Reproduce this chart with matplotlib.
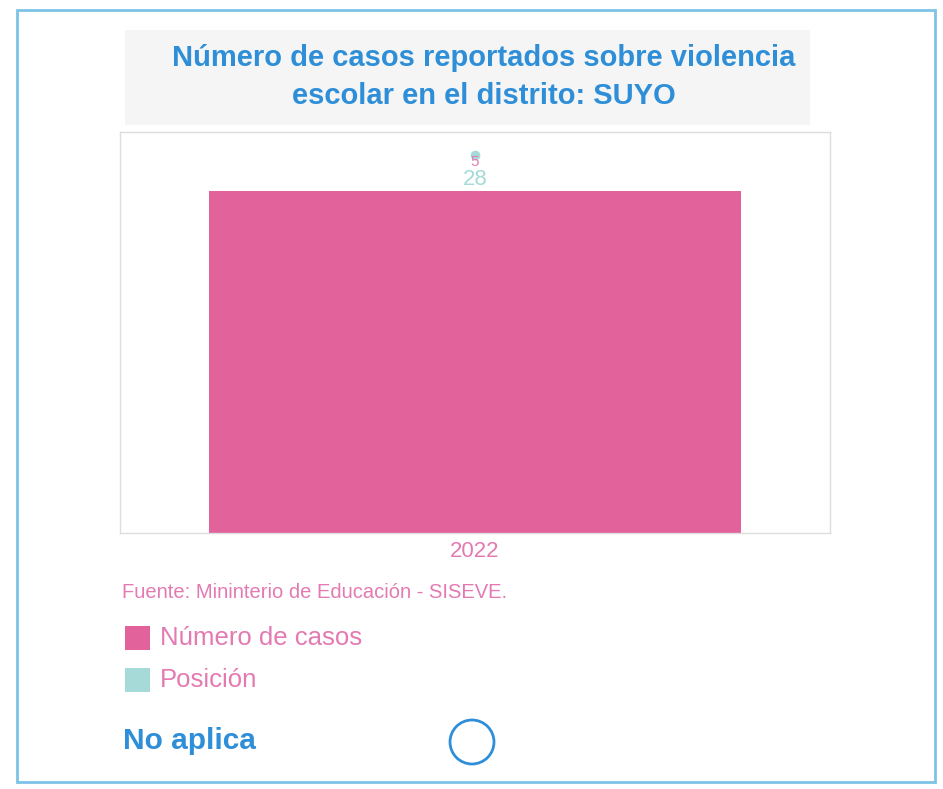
import matplotlib.pyplot as plt
from matplotlib.patches import Rectangle, Circle

# data
years = ["2022"]
casos = [28]
posicion = [5]

title = "Número de casos reportados sobre violencia\nescolar en el distrito: SUYO"
fuente = "Fuente: Mininterio de Educación - SISEVE."
legend_labels = ["Número de casos", "Posición"]
footer = "No aplica"

PINK = "#e2639c"
TEAL = "#a6dad8"
BLUE = "#2e8fd8"
TEXT_PINK = "#e47ab2"

plt.rcParams["font.family"] = ["Liberation Sans", "DejaVu Sans"]

fig = plt.figure(figsize=(9.43, 7.89), dpi=100)
W, H = 943, 789


def fx(px):
    return px / W


def fy(py):
    return 1 - py / H


# page frame
fig.patches.append(Rectangle((fx(17), fy(782)), fx(935) - fx(17), fy(10) - fy(782),
                             transform=fig.transFigure, fill=False,
                             edgecolor="#7cc3e8", lw=2))
# title background
fig.patches.append(Rectangle((fx(125), fy(125)), fx(810) - fx(125), fy(30) - fy(125),
                             transform=fig.transFigure, facecolor="#f5f5f5",
                             edgecolor="none"))
fig.text(fx(484), fy(77), title, ha="center", va="center", color=BLUE,
         fontsize=21, fontweight="bold", linespacing=1.45)

# main chart
ax = fig.add_axes([fx(120), fy(533), fx(830) - fx(120), fy(132) - fy(533)])
x = list(range(len(years)))
ax.bar(x, casos, width=0.75, color=PINK)
ax.set_xlim(-0.5, 0.5)
ax.set_ylim(0, 32.8)
ax.set_xticks(x)
ax.set_xticklabels(years, color=TEXT_PINK, fontsize=16)
ax.tick_params(axis="x", length=0, pad=6)
ax.set_yticks([])
for s in ax.spines.values():
    s.set_color("#dddddd")
    s.set_linewidth(1)
for xi, v in zip(x, casos):
    ax.text(xi, v + 0.02, str(v), ha="center", va="bottom", color=TEAL, fontsize=16)

ax2 = ax.twinx()
ax2.plot(x, posicion, "o", color=TEAL, markersize=6)
ax2.set_ylim(0, 5.3)
ax2.set_yticks([])
for s in ax2.spines.values():
    s.set_visible(False)
for xi, v in zip(x, posicion):
    ax2.text(xi, v - 0.1, str(v), ha="center", va="center", color=TEXT_PINK, fontsize=11)

# source
fig.text(fx(122), fy(592), fuente, ha="left", va="center", color=TEXT_PINK, fontsize=14.5)

# legend
for i, (lab, col) in enumerate(zip(legend_labels, [PINK, TEAL])):
    yc = 638 + i * 42
    fig.patches.append(Rectangle((fx(125), fy(yc + 12)), fx(150) - fx(125), fy(yc - 12) - fy(yc + 12),
                                 transform=fig.transFigure, facecolor=col, edgecolor="none"))
    fig.text(fx(160), fy(yc), lab, ha="left", va="center", color=TEXT_PINK, fontsize=18.5)

# footer
fig.text(fx(123), fy(741), footer, ha="left", va="center", color=BLUE,
         fontsize=21.5, fontweight="bold")
circ = Circle((472, H - 742), 22, transform=None, fill=False, edgecolor=BLUE, lw=2)
fig.patches.append(circ)

fig.savefig("out.png", dpi=100)
